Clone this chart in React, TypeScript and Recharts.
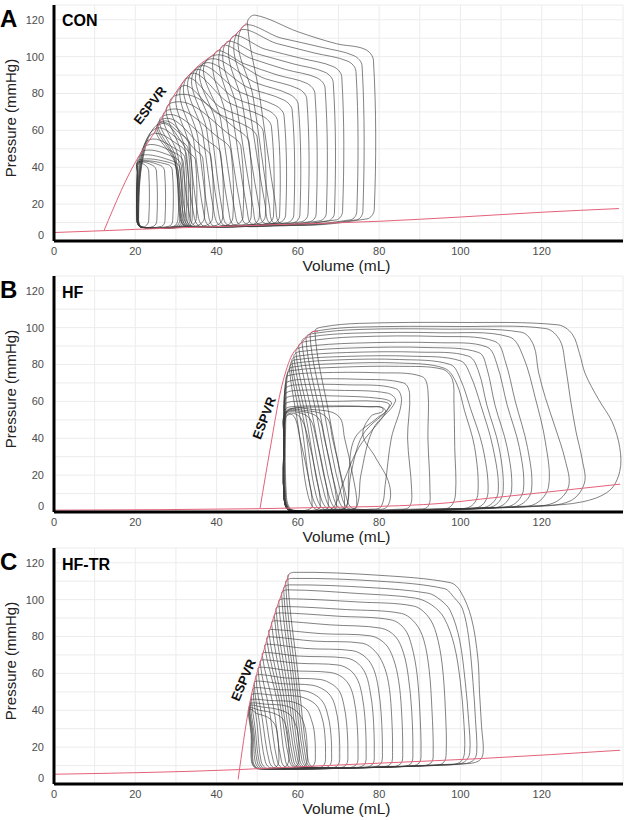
import { LineChart, Line, XAxis, YAxis, CartesianGrid, ReferenceDot } from "recharts";

const volumeTicks = [0, 10, 20, 30, 40, 50, 60, 70, 80, 90, 100, 110, 120, 130, 140];
const volumeLabels = [0, 20, 40, 60, 80, 100, 120];
const pressureTicks = [0, 10, 20, 30, 40, 50, 60, 70, 80, 90, 100, 110, 120];
const pressureLabels = [0, 20, 40, 60, 80, 100, 120];

// each loop: [volume, pressure, volume, pressure, ...] read round the beat
const conLoops = [
  [56, 9.5, 77, 12, 78.8, 17, 78.6, 98, 76.5, 104, 69.5, 107, 60, 113.5, 49.5, 122.5, 47.6, 118.5, 50.5, 80, 54.5, 20],
  [54.5, 9.5, 74.5, 11.5, 76, 16, 75.8, 95, 73.8, 100.5, 66, 105, 56, 110, 46, 115, 49, 78, 53, 19],
  [53.5, 9.5, 73, 11.5, 74.5, 16, 74.3, 92, 72.3, 97.5, 64, 102, 55, 107, 45, 112.5, 47.8, 76, 52, 19],
  [52, 9.5, 69.5, 11.5, 71, 16, 70.8, 89, 68.8, 94.5, 61, 99, 52, 104, 43.5, 109.5, 46.4, 74, 50.5, 18],
  [50.5, 9, 67.5, 11, 69, 15, 68.7, 86, 66.7, 91.5, 59, 96, 50, 101.5, 42, 106.5, 45, 72, 49, 18],
  [49, 9, 65.5, 11, 67, 15, 66.7, 83, 64.7, 88.5, 57, 93, 48.5, 99, 41, 104.5, 43.8, 70, 47.5, 17],
  [47.5, 9, 63, 10.5, 64.5, 14.5, 64.2, 80, 62.2, 85.5, 55, 90, 47, 96, 39.5, 101.5, 42.3, 68, 46, 17],
  [46, 8.5, 61, 10.5, 62.5, 14.5, 62.2, 77, 60.2, 82.5, 52, 88, 38, 99, 41, 66, 44.5, 16],
  [44.5, 8.5, 59, 10, 60.5, 14, 60.1, 74, 58, 79.5, 50, 85.5, 37, 97, 39.8, 64, 43, 16],
  [43, 8.5, 57.5, 10, 59, 14, 58.6, 71, 56.5, 76.5, 48, 83, 36, 95, 38.6, 62, 41.5, 15],
  [42, 8.5, 55.5, 10, 57, 14, 56.6, 68, 54.5, 73.5, 46, 80.5, 35, 93.5, 37.6, 60, 40.5, 15],
  [41, 8.5, 54, 9.5, 55.5, 13.5, 55, 65, 53, 70.5, 44.5, 77.5, 34, 91.5, 36.6, 58, 39.5, 14],
  [39.5, 8, 52.5, 9.5, 54, 13.5, 53.5, 62, 51.5, 67.5, 43, 75, 33, 89.5, 35.4, 56, 38, 14],
  [38.5, 8, 50.5, 9.5, 52, 13.5, 51.5, 59, 49.5, 64.5, 41, 72.5, 32, 87, 34.4, 54, 37, 13],
  [37, 8, 49, 9, 50.5, 13, 50, 56, 48, 61.5, 40, 69.5, 31, 83, 33.2, 52, 35.5, 13],
  [36, 8, 47, 9, 48.5, 13, 48, 53.5, 46, 59, 30, 79, 32.2, 50, 34.5, 13],
  [35, 8, 45, 9, 46.5, 13, 46, 51, 44, 56.5, 29, 75, 31.2, 48, 33.5, 12],
  [34, 8, 42.5, 8.5, 44, 12.5, 43.5, 49, 41.5, 54.5, 28, 71, 30.5, 46, 32.5, 12],
  [33.5, 8, 40, 8.5, 41.5, 12.5, 41, 47.5, 39, 52.5, 27, 68, 30, 45, 32, 12],
  [33, 8, 37.5, 8.5, 39, 12.5, 38.6, 46, 36.8, 50.5, 26.5, 66, 29.8, 44, 31.5, 12],
  [32.5, 8, 35.5, 8.5, 37, 12.5, 36.6, 45, 35, 49, 26.2, 64.5, 29.8, 43, 31.2, 12],
  [32.2, 8, 34, 8.5, 35, 12, 34.8, 44, 33.5, 47.5, 25.8, 63, 29.8, 42, 31, 12],
  [21.5, 7.5, 29.5, 8, 30.5, 12, 30.5, 38.5, 28.5, 42.5, 20.9, 44, 20.6, 38, 20.5, 11.5],
  [21.5, 7.5, 30, 8, 31, 12, 31, 39.5, 29, 43.5, 21.3, 46.5, 20.7, 40, 20.5, 11.5],
  [21.5, 7.5, 30.5, 8, 31.5, 12, 31.3, 41, 29.5, 45.5, 22, 49, 21, 41, 20.6, 11.5],
  [21.6, 7.5, 31, 8, 32, 12, 31.8, 43, 30, 47.5, 22.8, 52, 21.2, 42, 20.6, 11.5],
  [21.6, 7.5, 31.5, 8, 32.5, 12, 32.2, 45, 30.3, 49.5, 23.5, 55, 21.4, 43, 20.7, 11.5],
  [21.7, 7.5, 32, 8, 33, 12, 32.6, 47, 30.7, 52, 24.2, 58, 21.6, 44, 20.7, 11.5],
  [21.7, 7.5, 32.5, 8, 33.5, 12, 33, 50, 31, 54.5, 25, 61, 21.8, 45, 20.8, 11.5],
  [21.8, 7.5, 33, 8, 34, 12, 33.4, 53, 31.5, 57.5, 26, 64, 22, 46, 20.8, 11.5],
  [21.3, 7.5, 22.5, 8, 23.3, 11, 23.3, 38, 22.5, 41, 20.8, 42, 20.5, 37, 20.4, 11],
  [21.3, 7.5, 24.5, 8, 25.3, 11, 25.2, 38, 24.3, 41, 20.8, 42.5, 20.5, 37, 20.4, 11],
  [21.3, 7.5, 26.5, 8, 27.3, 11, 27.2, 38, 26.2, 41, 20.8, 43, 20.5, 37, 20.4, 11],
  [21.4, 7.5, 28.3, 8, 29.2, 11, 29.1, 38.5, 28, 41.5, 20.8, 43, 20.5, 37, 20.4, 11],
];
const conEspvr = [12.3, 5.6, 20.8, 45.7, 23, 53, 25.4, 61.5, 28, 73, 31.5, 85.5, 35, 94, 40, 102.5, 44, 110.5, 47.5, 118.5];
const conEdpvr = [0, 4.6, 12.3, 5.6, 20, 6.3, 40, 7.8, 60, 9.2, 80, 10.7, 100, 13, 120, 15.6, 139, 17.6];

const hfLoops = [
  [74, 1.6, 120, 3.5, 130, 5.5, 136.6, 11.5, 139.2, 22, 139.2, 35, 137.3, 49, 134, 61, 130.7, 75, 129.3, 86, 127.5, 96.5, 124, 101.5, 100, 102.8, 75, 102.3, 66.5, 100.5, 64.2, 98, 67.5, 55, 71.5, 12],
  [73, 1.5, 118, 3, 127, 6, 130.5, 15.6, 130, 28, 128.4, 44, 127, 62, 125.8, 80, 124.5, 93, 121, 99.5, 100, 100.6, 75, 100.3, 65.5, 98.5, 63, 96, 66.5, 54, 70.5, 11],
  [72, 1.5, 115, 2.8, 123, 5, 126.6, 13.7, 125.8, 28, 123.3, 46, 120.9, 62, 119.2, 76, 118, 90.5, 115, 97.5, 95, 99.2, 75, 99, 64.5, 97, 62, 94.5, 65.5, 53, 69.5, 11],
  [71, 1.4, 112, 2.6, 118.5, 4.5, 121.7, 14, 120.9, 38, 118.4, 62, 115.5, 84, 112, 95, 95, 97.2, 74, 97, 63, 95, 61, 92.5, 64.7, 52, 68.5, 10],
  [70, 1.4, 110, 2.5, 115, 4.2, 117.5, 12, 116.5, 35, 113.5, 60, 111, 82, 108.5, 92.5, 95, 95.2, 74, 95, 62, 92.5, 60.2, 90, 63.8, 50, 67.5, 10],
  [69, 1.3, 108, 2.4, 113, 4, 115.5, 12, 114.5, 35, 111.5, 58, 109, 80, 106.5, 89.5, 95, 91.8, 74, 91.6, 61.2, 89.5, 59.5, 87, 63, 49, 66.5, 10],
  [68, 1.3, 106, 2.2, 110.5, 3.8, 112.6, 12, 111.5, 35, 108.5, 58, 106.5, 78, 104.5, 86.5, 92, 89.2, 74, 89, 60.5, 87, 59, 84.5, 62.3, 48, 65.5, 9],
  [67, 1.2, 104, 2.1, 108.5, 3.6, 110.5, 11, 109.5, 35, 106.5, 58, 104.5, 76, 102, 84.5, 90, 86.7, 72, 86.5, 59.8, 84.5, 58.5, 82, 61.7, 47, 64.5, 9],
  [66, 1.2, 102, 2, 107, 3.4, 109.3, 11, 108, 35, 105, 58, 102.5, 74, 100, 82, 88, 84.5, 72, 84.4, 59.2, 82.5, 58.2, 80, 61, 46, 63.5, 9],
  [65, 1.1, 100, 1.9, 105, 3.2, 106.8, 11, 105.5, 35, 102.5, 56, 100, 72, 97.5, 80, 85, 82.7, 70, 82.5, 58.7, 80.5, 57.9, 78, 60.2, 45, 62.5, 9],
  [59, 0.9, 98, 1.8, 102.5, 3, 104.3, 10, 103.5, 35, 101, 55, 99, 70, 96, 78, 85, 80.8, 70, 80.5, 58.4, 78.5, 57.5, 75.5, 57.1, 60, 57.2, 8],
  [58.8, 0.9, 94, 1.7, 97.5, 2.8, 98.8, 10, 98.6, 35, 98.4, 60, 98, 72, 95.5, 77.5, 85, 79, 70, 78.5, 58, 76.5, 57.2, 73.5, 56.9, 58, 57, 8],
  [58.6, 0.9, 89, 1.6, 92, 3, 92.5, 12, 92, 40, 92, 66, 90.5, 73.5, 80, 75.5, 65, 75.5, 57.6, 74, 57, 71, 56.8, 55, 56.9, 8],
  [58.5, 0.9, 85, 1.5, 87.5, 3, 88, 12, 87, 40, 87.5, 64, 86, 70, 75, 72, 62, 72, 57.3, 70.5, 56.8, 67, 56.7, 50, 56.8, 8],
  [58.4, 0.9, 78, 1.4, 80.5, 3, 81.5, 15, 83, 40, 85.5, 60, 84, 67, 72, 69, 60, 69, 57.1, 67.5, 56.7, 64, 56.6, 45, 56.7, 8],
  [58.3, 0.9, 72, 1.3, 74.5, 3, 75.5, 20, 78.5, 45, 84, 60, 82, 64.5, 70, 66, 60, 66, 57, 64.5, 56.6, 61, 56.6, 45, 56.7, 8],
  [58.2, 0.9, 70, 1.2, 72, 3, 73, 20, 76, 42, 83, 58.5, 80.5, 61.5, 68, 63, 59, 63, 56.9, 61.5, 56.6, 58, 56.6, 40, 56.7, 8],
  [58.1, 0.9, 67, 1.1, 69, 3, 71, 15, 75, 35, 82.5, 57.5, 80, 60, 68, 60, 59, 60, 56.8, 58.5, 56.6, 55, 56.6, 40, 56.6, 8],
  [58, 0.9, 69.5, 1.2, 72, 3, 72.5, 20, 74, 40, 79.5, 51, 81.5, 55.5, 77, 57.2, 66, 57.5, 58, 57, 56.8, 55, 56.6, 40, 56.6, 8],
  [58, 0.9, 78, 1.5, 82, 3, 82.5, 15, 79, 30, 76, 42, 78, 52, 81, 55.5, 78, 57, 66, 57, 58, 56, 56.8, 53, 56.6, 40, 56.6, 8],
  [58, 0.8, 62, 1, 63.5, 3, 62.5, 20, 60.5, 40, 59.5, 50, 58.3, 53, 57, 51, 56.6, 40, 56.6, 8],
  [58, 0.8, 64, 1, 65.5, 3, 64.5, 20, 62.5, 40, 61, 50, 59, 53.5, 57, 52, 56.6, 40, 56.6, 8],
  [58, 0.8, 66, 1, 67.5, 3, 66.5, 20, 64.5, 40, 63, 50.5, 60, 54, 57, 53, 56.6, 40, 56.6, 8],
  [58, 0.8, 68, 1.1, 69.5, 3, 68.5, 20, 66.5, 40, 65, 51, 61, 54.5, 57, 53.5, 56.6, 40, 56.6, 8],
  [58, 0.8, 70, 1.2, 71.5, 3, 70.5, 20, 68.5, 40, 67, 51.5, 62, 55, 57.1, 54, 56.6, 40, 56.6, 8],
  [58, 0.8, 73, 1.3, 74.5, 3, 73.5, 20, 71.5, 40, 70, 52, 64, 55.5, 57.2, 54.5, 56.7, 40, 56.6, 8],
];
const hfEspvr = [50.7, 2, 53.3, 35.8, 55.8, 66, 57, 76, 58.3, 84, 60, 89.5, 61.6, 93.5, 64, 98, 65, 98];
const hfEdpvr = [0, 1, 50.7, 1.8, 60, 2.2, 70, 2.6, 85, 3.4, 97, 5, 105, 7, 120, 10.5, 139.3, 15.1];

const hftrLoops = [
  [64, 9, 101, 11, 104.5, 12.5, 105.6, 17, 105.2, 31, 104.7, 49.5, 104.3, 68, 102.7, 90, 100, 104.5, 97.5, 109.2, 80, 113.2, 59, 114.8, 57.5, 112.5, 60, 60, 62.5, 13],
  [63.5, 9, 100, 10.8, 103, 12.5, 104, 17, 103.7, 35, 103.1, 55, 102, 80, 100.5, 95, 98.5, 101, 96, 106, 80, 110, 58.5, 111.5, 57, 109.5, 59.5, 58, 62, 13],
  [63, 9, 98, 10.5, 101, 12, 102.3, 17, 102, 35, 101.2, 55, 99.8, 78, 97.5, 94, 95, 100, 92, 103.5, 78, 106.5, 58, 108, 56.5, 106, 59, 57, 61.5, 13],
  [62.5, 9, 97, 10.3, 100, 12, 101, 17, 100.8, 35, 100, 55, 98.5, 75, 96, 90, 93, 97, 89, 100.8, 75, 103.3, 57.5, 105.3, 56, 103.5, 58.5, 56, 61, 13],
  [62, 9, 93, 10, 95.8, 11.5, 96.5, 17, 96.3, 40, 95.5, 65, 94, 82, 92, 91, 88.5, 96.5, 75, 98.7, 56.8, 100.5, 55.3, 99, 58, 54, 60.5, 12.5],
  [61.5, 9, 90, 9.8, 92.8, 11.5, 93.3, 17, 93, 40, 92.3, 62, 91, 78, 89, 87, 85.5, 92.5, 72, 94.6, 56, 96.3, 54.6, 95, 57.5, 52, 60, 12.5],
  [61, 9, 87, 9.6, 89.8, 11.3, 90.3, 17, 90, 40, 89.3, 60, 88, 75, 86.3, 84, 83, 89, 70, 91, 55.5, 92.8, 54.2, 91.5, 57, 50, 59.5, 12.5],
  [60.5, 9, 85, 9.5, 87.8, 11, 88.3, 17, 88, 40, 87.2, 58, 86, 71, 84, 80, 80.5, 84.5, 68, 86.3, 54.8, 88.5, 53.5, 87.5, 56.5, 48, 59, 12],
  [60, 8.8, 82.5, 9.3, 85.3, 11, 85.8, 17, 85.5, 40, 84.8, 56, 83.5, 68, 81.5, 76, 78, 80.3, 66, 81.5, 54, 83.8, 52.8, 83, 56, 46, 58.5, 12],
  [59.5, 8.8, 80, 9.2, 82.8, 10.8, 83.3, 17, 83, 40, 82.3, 55, 81, 65, 79, 72, 76, 76.3, 64, 77.5, 53.5, 79.8, 52.3, 79, 55.5, 45, 58, 12],
  [58.5, 8.7, 77.5, 9.1, 80.3, 10.7, 80.8, 17, 80.5, 38, 79.8, 52, 78.7, 62, 76.8, 68.5, 73.5, 72.3, 62, 73.5, 53, 75.8, 51.8, 75, 55, 44, 57, 12],
  [57.5, 8.6, 75.5, 9, 78.3, 10.5, 78.8, 17, 78.5, 38, 77.8, 50, 76.8, 59, 75, 65, 72, 68.3, 60, 69.4, 52.5, 71.3, 51.2, 70.5, 54, 42, 56, 12],
  [56.5, 8.5, 73.5, 8.9, 76.3, 10.4, 76.8, 17, 76.5, 36, 75.8, 48, 74.8, 56, 73, 61.5, 70, 64.5, 60, 65.5, 52, 67.3, 50.7, 66.5, 53, 40, 55, 12],
  [55.5, 8.5, 71.5, 8.8, 74.3, 10.3, 74.8, 17, 74.5, 35, 73.8, 46, 72.8, 53, 71, 57.8, 68, 60.5, 58, 61.5, 51.5, 63.3, 50.2, 62.5, 52, 38, 54, 12],
  [54.5, 8.5, 69, 8.7, 71.8, 10.2, 72.3, 17, 72, 33, 71.3, 43, 70.3, 50, 68.5, 54, 65.5, 56.7, 57, 57.5, 51, 59.3, 49.7, 58.5, 51.2, 36, 53, 12],
  [53.5, 8.5, 67, 8.6, 69.8, 10.1, 70.3, 17, 70, 32, 69.3, 41, 68.3, 47, 66.5, 51, 63.5, 53.6, 56, 54.4, 50.5, 55.8, 49.3, 55, 50.5, 34, 52, 12],
  [52.5, 8.4, 65, 8.6, 67.8, 10, 68.3, 17, 68, 30, 67.3, 38, 66.3, 44, 64.5, 48, 61.5, 50.6, 55, 51.2, 50, 52.3, 49, 51.5, 50, 32, 51, 12],
  [51.8, 8.4, 63.5, 8.5, 66.3, 10, 66.8, 17, 66.5, 30, 65.8, 37, 64.8, 42, 63, 45.3, 60, 47.6, 54, 48.2, 49.6, 49, 48.6, 48, 49.5, 30, 50.5, 12],
  [51.3, 8.4, 61, 8.5, 63.8, 10, 64.3, 17, 64, 29, 63.3, 35, 62.3, 40, 60.5, 43, 58, 44.8, 53, 45.3, 49.2, 46, 48.3, 45, 49.2, 28, 50, 12],
  [50.8, 8.4, 59, 8.5, 61.8, 10, 62.3, 17, 62, 28, 61.3, 34, 60.3, 38, 58.5, 41.2, 56, 42.8, 52, 43.3, 49, 44, 48.1, 43, 49, 27, 49.5, 12],
  [50.3, 8.4, 57, 8.5, 59.8, 10, 60.3, 17, 60, 28, 59.3, 33, 58.3, 37, 56.5, 39.5, 54, 41, 51, 41.8, 48.8, 42.8, 48, 42, 48.8, 27, 49, 12],
  [50, 8.4, 55, 8.5, 57.3, 10, 57.8, 17, 57.5, 27, 57, 32, 56.2, 35.5, 54.5, 38, 52.5, 39.3, 50.5, 40, 48.6, 41.5, 47.9, 41, 48.6, 27, 48.8, 12],
  [49.8, 8.4, 53, 8.5, 55, 10, 55.3, 17, 55, 27, 54.6, 31, 53.8, 34, 52.5, 36.3, 51, 37.5, 49.8, 38.3, 48.5, 40.5, 47.8, 40, 48.5, 27, 48.6, 12],
];
const hftrEspvr = [45.3, 2.5, 48, 42, 51.7, 73, 54.2, 91.5, 57.8, 113.5];
const hftrEdpvr = [0, 5.3, 45.3, 7.8, 60, 9.3, 80, 11.3, 105, 13.8, 139.3, 18.3];

const FONT = "Liberation Sans, Arial, sans-serif";
const RED = "#e3627a";

const toPoints = (flat: number[]) => {
  const out: { v: number; p: number }[] = [];
  for (let i = 0; i < flat.length; i += 2) out.push({ v: flat[i], p: flat[i + 1] });
  return out;
};

// closed smooth curve through every point of a loop
const loopCurve = (context: any) => {
  let pts: number[][] = [];
  return {
    areaStart() {},
    areaEnd() {},
    lineStart() {
      pts = [];
    },
    point(x: number, y: number) {
      pts.push([+x, +y]);
    },
    lineEnd() {
      const n = pts.length;
      if (!n) return;
      const tan = pts.map((_, i) => {
        const a = pts[(i - 1 + n) % n];
        const b = pts[(i + 1) % n];
        const len = Math.hypot(b[0] - a[0], b[1] - a[1]) || 1;
        return [(b[0] - a[0]) / len, (b[1] - a[1]) / len];
      });
      context.moveTo(pts[0][0], pts[0][1]);
      for (let i = 0; i < n; i++) {
        const j = (i + 1) % n;
        const p = pts[i];
        const q = pts[j];
        const d = Math.hypot(q[0] - p[0], q[1] - p[1]) / 3;
        context.bezierCurveTo(
          p[0] + tan[i][0] * d,
          p[1] + tan[i][1] * d,
          q[0] - tan[j][0] * d,
          q[1] - tan[j][1] * d,
          q[0],
          q[1]
        );
      }
      context.closePath();
    },
  };
};

const VolumeTick = (props: any) => {
  const { x, y, payload } = props;
  if (!volumeLabels.includes(payload.value)) return <g />;
  return (
    <text x={x} y={y + 2} dy="0.36em" textAnchor="middle" fontSize={11} fill="#4d4d4d" fontFamily={FONT}>
      {payload.value}
    </text>
  );
};

const PressureTick = (props: any) => {
  const { x, y, payload } = props;
  if (!pressureLabels.includes(payload.value)) return <g />;
  return (
    <text x={x - 2} y={payload.value === 0 ? y - 6 : y} dy="0.36em" textAnchor="end" fontSize={11} fill="#4d4d4d" fontFamily={FONT}>
      {payload.value}
    </text>
  );
};

const volumeLabel = (props: any) => {
  const { x, y, width } = props.viewBox;
  return (
    <text x={x + width / 2 + 8} y={y + 30} textAnchor="middle" fontSize={15.5} fill="#222" fontFamily={FONT}>
      Volume (mL)
    </text>
  );
};

const pressureLabel = (props: any) => {
  const { y, height } = props.viewBox;
  return (
    <text
      transform={`translate(10, ${y + height / 2 - 5}) rotate(-90)`}
      textAnchor="middle"
      dominantBaseline="central"
      fontSize={15}
      fill="#222"
      fontFamily={FONT}
    >
      Pressure (mmHg)
    </text>
  );
};

type PanelProps = {
  top: number;
  loops: number[][];
  espvr: number[];
  edpvr: number[];
  labelAt: number[];
  labelAngle: number;
};

const Panel = ({ top, loops, espvr, edpvr, labelAt, labelAngle }: PanelProps) => (
  <div style={{ position: "absolute", left: 0, top }}>
    <LineChart width={626} height={276} margin={{ top: 5, right: 3, bottom: 0, left: 0 }}>
      <CartesianGrid stroke="#ececec" />
      <XAxis
        type="number"
        dataKey="v"
        domain={[0, 140]}
        ticks={volumeTicks}
        interval={0}
        allowDataOverflow
        height={35}
        tickLine={false}
        axisLine={{ stroke: "#000", strokeWidth: 3 }}
        tick={<VolumeTick />}
        label={volumeLabel}
      />
      <YAxis
        type="number"
        domain={[0, 128]}
        ticks={pressureTicks}
        interval={0}
        allowDataOverflow
        width={54}
        tickLine={false}
        axisLine={{ stroke: "#000", strokeWidth: 3 }}
        tick={<PressureTick />}
        label={pressureLabel}
      />
      {loops.map((loop, i) => (
        <Line
          key={i}
          data={toPoints(loop)}
          dataKey="p"
          type={loopCurve as any}
          stroke="#3a3a3a"
          strokeOpacity={0.8}
          strokeWidth={0.8}
          dot={false}
          activeDot={false}
          isAnimationActive={false}
        />
      ))}
      <Line data={toPoints(edpvr)} dataKey="p" type="monotone" stroke={RED} strokeWidth={1} dot={false} activeDot={false} isAnimationActive={false} />
      <Line data={toPoints(espvr)} dataKey="p" type="monotone" stroke={RED} strokeWidth={1} dot={false} activeDot={false} isAnimationActive={false} />
      <ReferenceDot
        x={labelAt[0]}
        y={labelAt[1]}
        r={0}
        shape={(p: any) => (
          <text
            x={p.cx}
            y={p.cy}
            transform={`rotate(${labelAngle} ${p.cx} ${p.cy})`}
            textAnchor="middle"
            dominantBaseline="central"
            fontSize={13}
            fontWeight="bold"
            fill="#111"
            fontFamily={FONT}
          >
            ESPVR
          </text>
        )}
      />
    </LineChart>
  </div>
);

export default function App() {
  return (
    <div style={{ position: "absolute", left: 0, top: 0, width: 626, height: 820, background: "#fff" }}>
      <Panel top={0} loops={conLoops} espvr={conEspvr} edpvr={conEdpvr} labelAt={[23.6, 73.5]} labelAngle={-52} />
      <Panel top={271} loops={hfLoops} espvr={hfEspvr} edpvr={hfEdpvr} labelAt={[51.7, 51]} labelAngle={-69} />
      <Panel top={543} loops={hftrLoops} espvr={hftrEspvr} edpvr={hftrEdpvr} labelAt={[46.6, 56.4]} labelAngle={-67} />
      <svg width={626} height={820} style={{ position: "absolute", left: 0, top: 0, pointerEvents: "none" }}>
        <g fontFamily={FONT} fontWeight="bold" fill="#000">
          <text x={0} y={27} fontSize={24}>A</text>
          <text x={62} y={26} fontSize={16}>CON</text>
          <text x={0} y={298} fontSize={24}>B</text>
          <text x={62} y={298} fontSize={16}>HF</text>
          <text x={0} y={570} fontSize={24}>C</text>
          <text x={62} y={570} fontSize={16}>HF-TR</text>
        </g>
      </svg>
    </div>
  );
}
